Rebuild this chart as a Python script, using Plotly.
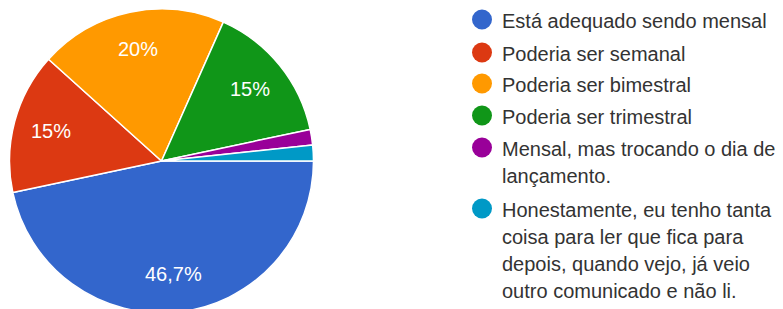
import math
import plotly.graph_objects as go

labels = [
    "Está adequado sendo mensal",
    "Poderia ser semanal",
    "Poderia ser bimestral",
    "Poderia ser trimestral",
    "Mensal, mas trocando o dia de lançamento.",
    "Honestamente, eu tenho tanta coisa para ler que fica para depois, quando vejo, já veio outro comunicado e não li.",
]
values = [28, 9, 12, 9, 1, 1]
pct_text = ["46,7%", "15%", "20%", "15%", "", ""]
colors = ["#3366CC", "#DC3912", "#FF9900", "#109618", "#990099", "#0099C6"]
legend_lines = [
    ["Está adequado sendo mensal"],
    ["Poderia ser semanal"],
    ["Poderia ser bimestral"],
    ["Poderia ser trimestral"],
    ["Mensal, mas trocando o dia de", "lançamento."],
    ["Honestamente, eu tenho tanta", "coisa para ler que fica para",
     "depois, quando vejo, já veio", "outro comunicado e não li."],
]

OFF = 8  # page body margin
W, H = 783, 320
cx, cy, R = 161.5 - OFF, 161 - OFF, 152
FONT = "Liberation Sans, Arial, sans-serif"

fig = go.Figure(go.Pie(
    labels=labels, values=values,
    textinfo="none",
    marker=dict(colors=colors, line=dict(color="white", width=1.5)),
    sort=False, direction="clockwise", rotation=90,
    showlegend=False, hoverinfo="label+percent",
    domain=dict(x=[(cx - R) / W, (cx + R) / W], y=[1 - (cy + R) / H, 1 - (cy - R) / H]),
))

shapes, annotations = [], []

# percentage labels at ~0.75 R along each slice's mid-angle
total = sum(values)
start = 0.0
for v, t in zip(values, pct_text):
    ang = start + v / total * 360 / 2
    start += v / total * 360
    if not t:
        continue
    a = math.radians(ang)
    px, py = cx + 0.75 * R * math.cos(a), cy + 0.75 * R * math.sin(a)
    annotations.append(dict(text=t, xref="paper", yref="paper", x=px / W, y=1 - py / H,
                            xanchor="center", yanchor="middle", showarrow=False,
                            font=dict(size=20, color="white", family=FONT)))

# legend
baselines = [27, 60, 91, 123, 155, 216]
for color, lines, b in zip(colors, legend_lines, baselines):
    r = 10
    ccy = b - 7.5 - OFF
    ccx = 482 - OFF
    shapes.append(dict(type="circle", xref="paper", yref="paper",
                       x0=(ccx - r) / W, x1=(ccx + r) / W,
                       y0=1 - (ccy + r) / H, y1=1 - (ccy - r) / H,
                       fillcolor=color, line=dict(width=0)))
    for i, ln in enumerate(lines):
        mid = b + i * 27 - 6 - OFF
        annotations.append(dict(text=ln, xref="paper", yref="paper",
                                x=(500 - OFF) / W, y=1 - mid / H,
                                xanchor="left", yanchor="middle", showarrow=False,
                                font=dict(size=20, color="#333333", family=FONT)))

fig.update_layout(width=W, height=H, margin=dict(l=0, r=0, t=0, b=0),
                  paper_bgcolor="white", plot_bgcolor="white",
                  shapes=shapes, annotations=annotations)
fig.write_html("out.html")
